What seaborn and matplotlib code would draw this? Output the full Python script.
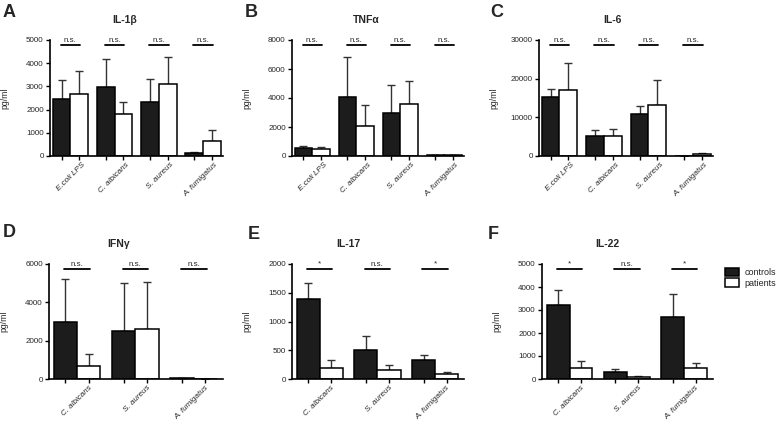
import numpy as np
import pandas as pd
import matplotlib
matplotlib.use('Agg')
import matplotlib.pyplot as plt
import matplotlib.transforms as mtransforms
from matplotlib.patches import Patch
import seaborn as sns

# Data: mean and upper error (SEM) per stimulus
STIM4 = ['E.coli LPS', 'C. albicans', 'S. aureus', 'A. fumigatus']
STIM3 = ['C. albicans', 'S. aureus', 'A. fumigatus']
GROUPS = ['controls', 'patients']

il1b_ctrl = [2440, 2990, 2340, 145]
il1b_ctrl_err = [840, 1200, 970, 45]
il1b_pat = [2690, 1820, 3110, 665]
il1b_pat_err = [980, 490, 1150, 445]

tnfa_ctrl = [560, 4060, 2970, 90]
tnfa_ctrl_err = [140, 2760, 1920, 10]
tnfa_pat = [510, 2040, 3570, 50]
tnfa_pat_err = [140, 1480, 1620, 10]

il6_ctrl = [15300, 5100, 10900, 0]
il6_ctrl_err = [2000, 1560, 2070, 0]
il6_pat = [17000, 5100, 13150, 430]
il6_pat_err = [6950, 1990, 6560, 430]

ifng_ctrl = [2970, 2520, 30]
ifng_ctrl_err = [2250, 2500, 0]
ifng_pat = [700, 2610, 10]
ifng_pat_err = [600, 2470, 0]

il17_ctrl = [1400, 510, 325]
il17_ctrl_err = [275, 245, 85]
il17_pat = [200, 150, 92]
il17_pat_err = [125, 87, 30]

il22_ctrl = [3230, 315, 2690]
il22_ctrl_err = [660, 130, 990]
il22_pat = [490, 100, 490]
il22_pat_err = [300, 10, 185]

sig4 = ['n.s.', 'n.s.', 'n.s.', 'n.s.']
sig3 = ['n.s.', 'n.s.', 'n.s.']
sig_il17 = ['*', 'n.s.', '*']
sig_il22 = ['*', 'n.s.', '*']

PANELS = [
    # letter, title, stimuli, ctrl, ctrl_err, pat, pat_err, sig, yticks
    ('A', 'IL-1β', STIM4, il1b_ctrl, il1b_ctrl_err, il1b_pat, il1b_pat_err, sig4, [0, 1000, 2000, 3000, 4000, 5000]),
    ('B', 'TNFα', STIM4, tnfa_ctrl, tnfa_ctrl_err, tnfa_pat, tnfa_pat_err, sig4, [0, 2000, 4000, 6000, 8000]),
    ('C', 'IL-6', STIM4, il6_ctrl, il6_ctrl_err, il6_pat, il6_pat_err, sig4, [0, 10000, 20000, 30000]),
    ('D', 'IFNγ', STIM3, ifng_ctrl, ifng_ctrl_err, ifng_pat, ifng_pat_err, sig3, [0, 2000, 4000, 6000]),
    ('E', 'IL-17', STIM3, il17_ctrl, il17_ctrl_err, il17_pat, il17_pat_err, sig_il17, [0, 500, 1000, 1500, 2000]),
    ('F', 'IL-22', STIM3, il22_ctrl, il22_ctrl_err, il22_pat, il22_pat_err, sig_il22, [0, 1000, 2000, 3000, 4000, 5000]),
]

# axes boxes in pixels (left, top, right, bottom) and title x offsets
W, H = 778, 425
BOXES = [(50, 40, 223, 156), (292, 40, 464, 156), (539, 40, 713, 156),
         (49, 264, 223, 379), (292, 264, 464, 379), (542, 264, 713, 379)]
TITLE_X = [0.43, 0.43, 0.42, 0.40, 0.33, 0.38]
LETTER_POS = [(3, 4), (245, 4), (490, 4), (3, 224), (248, 226), (488, 226)]

CTRL_COLOR = '#1c1c1c'

sns.set_style('ticks')
plt.rcParams['font.family'] = ['Liberation Sans', 'DejaVu Sans']

fig = plt.figure(figsize=(W / 100, H / 100), dpi=100)

for i, (letter, title, stims, ctrl, ctrl_err, pat, pat_err, sig, yticks) in enumerate(PANELS):
    l, t, r, b = BOXES[i]
    ax = fig.add_axes([l / W, 1 - b / H, (r - l) / W, (b - t) / H])

    df = pd.DataFrame({
        'stimulus': stims * 2,
        'group': ['controls'] * len(stims) + ['patients'] * len(stims),
        'value': list(ctrl) + list(pat),
    })
    sns.barplot(data=df, x='stimulus', y='value', hue='group', hue_order=GROUPS,
                order=stims, palette={'controls': CTRL_COLOR, 'patients': 'white'},
                edgecolor='black', linewidth=1.1, width=0.8, errorbar=None,
                legend=False, ax=ax, zorder=2)

    # one-sided error bars
    centers = []
    for cont, means, errs in zip(ax.containers, [ctrl, pat], [ctrl_err, pat_err]):
        xs = [p.get_x() + p.get_width() / 2 for p in cont]
        centers.extend(xs)
        ax.errorbar(xs, means, yerr=[np.zeros(len(errs)), errs], fmt='none',
                    ecolor='#333333', elinewidth=1.0, capsize=3.2, capthick=1.0, zorder=1)

    ymax = yticks[-1]
    ax.set_ylim(0, ymax)
    n = len(stims)
    if n == 4:
        ax.set_xlim(-0.46, 3.45)
    else:
        ax.set_xlim(-0.48, 2.5)
    ax.set_yticks(yticks)
    ax.set_yticklabels([str(v) for v in yticks], fontsize=5.8)

    # ticks under each bar, labels at group centers
    ax.set_xticks(range(n))
    ax.set_xticks(sorted(centers), minor=True)
    ax.set_xticklabels(stims, rotation=45, ha='right', rotation_mode='anchor',
                       fontsize=5.8, style='italic')
    ax.tick_params(axis='x', which='major', length=0, pad=4)
    ax.tick_params(axis='x', which='minor', length=3, width=1.0, color='black')
    ax.tick_params(axis='y', length=3, width=1.0, pad=1.5, color='black')
    offset = mtransforms.ScaledTranslation(8 / 72, 0, fig.dpi_scale_trans)
    for lab in ax.get_xticklabels():
        lab.set_transform(lab.get_transform() + offset)

    sns.despine(ax=ax)
    for s in ['left', 'bottom']:
        ax.spines[s].set_linewidth(1.2)
        ax.spines[s].set_color('black')

    ax.set_xlabel('')
    ax.set_ylabel('pg/ml', fontsize=6.2)
    ax.yaxis.set_label_coords(-41 / (r - l), 0.5)

    # significance bars
    for g, s in enumerate(sig):
        yl = ymax * 0.955
        ax.plot([g - 0.22, g + 0.22], [yl, yl], color='black', lw=1.3,
                clip_on=False, zorder=3)
        ax.annotate(s, xy=(g, yl), xytext=(0, 1), textcoords='offset points',
                    ha='center', va='bottom', fontsize=5.8, annotation_clip=False)

    ax.annotate(title, xy=(TITLE_X[i], 1), xycoords='axes fraction',
                xytext=(0, 14.5), textcoords='offset points',
                ha='center', va='center', fontsize=7.5, fontweight='bold')

    lx, ly = LETTER_POS[i]
    fig.text(lx / W, 1 - ly / H, letter, fontsize=13, fontweight='bold',
             ha='left', va='top')

handles = [Patch(facecolor=CTRL_COLOR, edgecolor='black', linewidth=1.1, label='controls'),
           Patch(facecolor='white', edgecolor='black', linewidth=1.1, label='patients')]
fig.legend(handles=handles, loc='upper left', bbox_to_anchor=(720 / W, 1 - 263 / H),
           frameon=False, fontsize=6.5, handlelength=1.6, handleheight=1.0,
           handletextpad=0.6, labelspacing=0.2, borderpad=0)

fig.savefig('out.png', dpi=100)
